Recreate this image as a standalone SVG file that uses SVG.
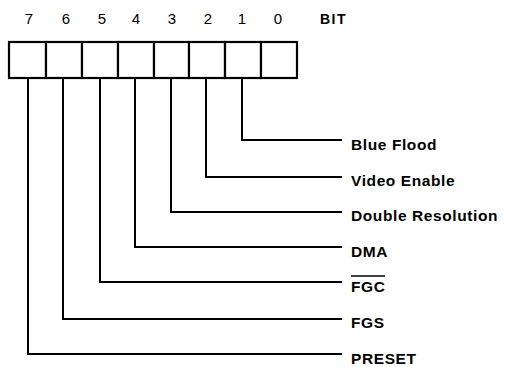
<svg xmlns="http://www.w3.org/2000/svg" width="505" height="367" viewBox="0 0 505 367">
<style>
.cell{fill:#fff;stroke:#000;stroke-width:2.2}
.conn{fill:none;stroke:#000;stroke-width:2}
.num{font-family:"Liberation Sans",Arial,sans-serif;font-size:15px;fill:#000;text-anchor:middle}
.lbl{font-family:"Liberation Sans",Arial,sans-serif;font-weight:bold;font-size:15.5px;fill:#000;letter-spacing:0.6px}
</style>
<rect x="0" y="0" width="505" height="367" fill="#fff"/>
<g id="header">
<text class="num" x="29" y="24">7</text>
<text class="num" x="66" y="24">6</text>
<text class="num" x="102" y="24">5</text>
<text class="num" x="136" y="24">4</text>
<text class="num" x="172" y="24">3</text>
<text class="num" x="208" y="24">2</text>
<text class="num" x="242" y="24">1</text>
<text class="num" x="278" y="24">0</text>
<text class="lbl" x="320" y="24" style="font-size:14px;letter-spacing:1.5px">BIT</text>
</g>
<g id="register">
<rect class="cell" x="9" y="42" width="37" height="36"/>
<rect class="cell" x="46" y="42" width="36" height="36"/>
<rect class="cell" x="82" y="42" width="36" height="36"/>
<rect class="cell" x="118" y="42" width="36" height="36"/>
<rect class="cell" x="154" y="42" width="35" height="36"/>
<rect class="cell" x="189" y="42" width="36" height="36"/>
<rect class="cell" x="225" y="42" width="36" height="36"/>
<rect class="cell" x="261" y="42" width="36" height="36"/>
</g>
<g id="connectors">
<polyline class="conn" points="242,78 242,140 342,140"/>
<polyline class="conn" points="206,78 206,177 342,177"/>
<polyline class="conn" points="171,78 171,212 342,212"/>
<polyline class="conn" points="135,78 135,247 342,247"/>
<polyline class="conn" points="100,78 100,282 342,282"/>
<polyline class="conn" points="63,78 63,319 342,319"/>
<polyline class="conn" points="28,78 28,354 342,354"/>
</g>
<g id="bit1"><text class="lbl" x="351" y="150">Blue Flood</text></g>
<g id="bit2"><text class="lbl" x="351" y="186">Video Enable</text></g>
<g id="bit3"><text class="lbl" x="351" y="221">Double Resolution</text></g>
<g id="bit4"><text class="lbl" x="351" y="257">DMA</text></g>
<g id="bit5"><text class="lbl" x="351" y="292">FGC</text><line x1="351" y1="276" x2="385" y2="276" stroke="#000" stroke-width="1.3"/></g>
<g id="bit6"><text class="lbl" x="351" y="328">FGS</text></g>
<g id="bit7"><text class="lbl" x="351" y="364">PRESET</text></g>
</svg>
